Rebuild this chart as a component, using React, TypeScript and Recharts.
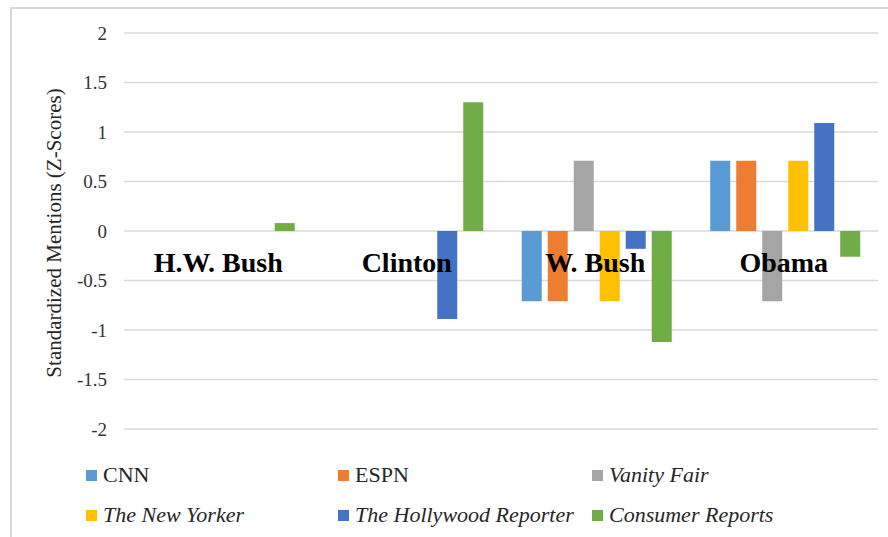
import React from "react";
import {
  ComposedChart,
  Bar,
  Line,
  XAxis,
  YAxis,
  CartesianGrid,
  Legend,
  LabelList,
  Label,
} from "recharts";

const presidents = ["H.W. Bush", "Clinton", "W. Bush", "Obama"];
const cnn = [0, 0, -0.71, 0.71];
const espn = [0, 0, -0.71, 0.71];
const vanityFair = [0, 0, 0.71, -0.71];
const newYorker = [0, 0, -0.71, 0.71];
const hollywoodReporter = [0, -0.89, -0.18, 1.09];
const consumerReports = [0.08, 1.3, -1.12, -0.26];
// invisible zero line that carries the category names
const labelBaseline = [0, 0, 0, 0];
const yTicks = [-2, -1.5, -1, -0.5, 0, 0.5, 1, 1.5, 2];

const serif = "Liberation Serif";

const series = [
  { key: "CNN", values: cnn, color: "#5B9BD5", italic: false },
  { key: "ESPN", values: espn, color: "#ED7D31", italic: false },
  { key: "Vanity Fair", values: vanityFair, color: "#A5A5A5", italic: true },
  { key: "The New Yorker", values: newYorker, color: "#FFC000", italic: true },
  { key: "The Hollywood Reporter", values: hollywoodReporter, color: "#4472C4", italic: true },
  { key: "Consumer Reports", values: consumerReports, color: "#70AD47", italic: true },
];

const data = presidents.map((name, i) => {
  const row: Record<string, string | number> = { name, baseline: labelBaseline[i] };
  series.forEach((s) => {
    row[s.key] = s.values[i];
  });
  return row;
});

const renderLegend = () => (
  <div
    className="serif-legend"
    style={{
      height: 108,
      boxSizing: "border-box",
      paddingTop: 26,
      paddingLeft: 86,
      fontSize: 22,
      color: "#262626",
    }}
  >
    {[0, 1].map((row) => (
      <div key={row} style={{ display: "flex", height: 40, alignItems: "center" }}>
        {series.slice(row * 3, row * 3 + 3).map((s, j) => (
          <div
            key={s.key}
            style={{ width: j === 0 ? 252 : 254, display: "flex", alignItems: "center", whiteSpace: "nowrap" }}
          >
            <span style={{ width: 11, height: 11, background: s.color, marginRight: 6, flexShrink: 0 }} />
            <span style={{ fontStyle: s.italic ? "italic" : "normal" }}>{s.key}</span>
          </div>
        ))}
      </div>
    ))}
  </div>
);

export default function App() {
  return (
    <div style={{ position: "relative", width: 888, height: 537, overflow: "hidden", background: "#fff" }}>
      <style>{`
        body { margin: 0; }
        .recharts-wrapper text, .serif-legend, .serif-legend span { font-family: "Liberation Serif", serif !important; }
      `}</style>
      <div
        style={{
          position: "absolute",
          left: 10,
          top: 7,
          width: 940,
          height: 600,
          border: "2px solid #d9d9d9",
        }}
      />
      <div style={{ position: "absolute", left: 0, top: 0 }}>
        <ComposedChart
          width={888}
          height={537}
          data={data}
          margin={{ top: 33, right: 10, left: 0, bottom: 0 }}
          barCategoryGap="11%"
          barGap={6}
        >
          <CartesianGrid vertical={false} stroke="#d9d9d9" strokeWidth={1.5} />
          <XAxis dataKey="name" hide />
          <YAxis
            width={124}
            domain={[-2, 2]}
            ticks={yTicks}
            axisLine={false}
            tickLine={false}
            tickSize={0}
            tickMargin={17}
            tick={{ fontFamily: serif, fontSize: 19, fill: "#333" }}
          >
            <Label
              value="Standardized Mentions (Z-Scores)"
              angle={-90}
              position="center"
              dx={-8}
              dy={2}
              style={{ fontFamily: serif, fontSize: 21, fill: "#262626", textAnchor: "middle" }}
            />
          </YAxis>
          <Legend verticalAlign="bottom" content={renderLegend} />
          {series.map((s) => (
            <Bar key={s.key} dataKey={s.key} fill={s.color} isAnimationActive={false} />
          ))}
          <Line
            dataKey="baseline"
            stroke="none"
            dot={false}
            activeDot={false}
            legendType="none"
            isAnimationActive={false}
          >
            <LabelList
              dataKey="name"
              position="bottom"
              offset={21}
              fill="#000"
              fontSize={28}
              fontWeight="bold"
              fontFamily={serif}
            />
          </Line>
        </ComposedChart>
      </div>
    </div>
  );
}
